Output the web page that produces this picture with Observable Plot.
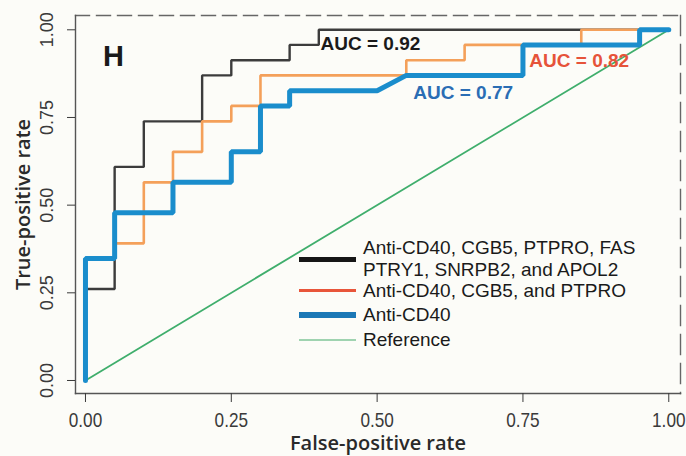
<!DOCTYPE html>
<html><head><meta charset="utf-8">
<script src="https://cdn.jsdelivr.net/npm/d3@7"></script>
<script src="https://cdn.jsdelivr.net/npm/@observablehq/plot@0.6"></script>
<style>
body{margin:0;background:#fcfcf8;}
#wrap{position:relative;width:686px;height:456px;overflow:hidden;}
#legend{position:absolute;left:0;top:0;width:686px;height:456px;pointer-events:none;font-family:"Liberation Sans",Arial,sans-serif;font-size:19px;color:#1a1a1a;}
#legend .sw{position:absolute;left:299px;width:57px;}
#legend .tx{position:absolute;left:363px;line-height:22px;white-space:pre;}
</style></head><body>
<div id="wrap"><div id="chart"></div><div id="legend"></div></div>
<script>
// ---- data ----
const tickValues = [0, 0.25, 0.5, 0.75, 1];

const seriesNames = [
  "Anti-CD40, CGB5, PTPRO, FAS\nPTRY1, SNRPB2, and APOL2",
  "Anti-CD40, CGB5, and PTPRO",
  "Anti-CD40",
  "Reference"
];

const fprSeven = [0, 0, 0.05, 0.05, 0.10, 0.10, 0.20, 0.20, 0.25, 0.25, 0.35, 0.35, 0.40, 0.40, 1.00];
const tprSeven = [0, 0.261, 0.261, 0.609, 0.609, 0.739, 0.739, 0.870, 0.870, 0.913, 0.913, 0.957, 0.957, 1, 1];

const fprThree = [0, 0, 0.05, 0.05, 0.10, 0.10, 0.15, 0.15, 0.20, 0.20, 0.25, 0.25, 0.30, 0.30, 0.55, 0.55, 0.65, 0.65, 0.85, 0.85, 1.00];
const tprThree = [0, 0.348, 0.348, 0.391, 0.391, 0.565, 0.565, 0.652, 0.652, 0.739, 0.739, 0.783, 0.783, 0.870, 0.870, 0.913, 0.913, 0.957, 0.957, 1, 1];

const fprCD40 = [0, 0, 0.05, 0.05, 0.15, 0.15, 0.25, 0.25, 0.30, 0.30, 0.35, 0.35, 0.50, 0.55, 0.75, 0.75, 0.95, 0.95, 1.00];
const tprCD40 = [0, 0.348, 0.348, 0.478, 0.478, 0.565, 0.565, 0.652, 0.652, 0.783, 0.783, 0.826, 0.826, 0.870, 0.870, 0.957, 0.957, 1, 1];

const fprRef = [0, 1];
const tprRef = [0, 1];

const aucText = ["AUC = 0.92", "AUC = 0.82", "AUC = 0.77"];

// ---- annotation placement & styles (not data) ----
const aucX = [0.403, 0.761, 0.562];
const aucY = [0.960, 0.910, 0.820];
const aucColors = ["#1a1a1a", "#e6533a", "#2a6db4"];

const lineColors = ["#3c3c3c", "#f4a05a", "#1a8dcc", "#3fae6c"];
const lineWidths = [2.4, 2.6, 5, 1.8];

const legendColors = ["#161616", "#e8553a", "#1b78b6", "#9fd3b0"];
const legendWidths = [4.5, 3.5, 6.5, 2];
const legendLineY = [259.3, 290.7, 315, 339.5];
const legendTextTop = [236.5, 279.5, 304, 328.5];

const toPoints = (xs, ys) => xs.map((x, i) => ({x, y: ys[i]}));
const curves = [
  toPoints(fprSeven, tprSeven),
  toPoints(fprThree, tprThree),
  toPoints(fprCD40, tprCD40)
];
const refCurve = toPoints(fprRef, tprRef);
const aucLabels = aucText.map((t, i) => ({t, x: aucX[i], y: aucY[i], c: aucColors[i]}));

const fmt = d3.format(".2f");
const titleFont = "'Open Sans', 'Liberation Sans', Arial, sans-serif";

const plot = Plot.plot({
  width: 686, height: 456,
  marginLeft: 75, marginRight: 6, marginTop: 15, marginBottom: 63,
  x: {domain: [-0.0171, 1.0201]},
  y: {domain: [-0.0371, 1.0408]},
  style: {background: "transparent", fontFamily: "'Liberation Sans', Arial, sans-serif", color: "#333"},
  marks: [
    Plot.frame({anchor: "top", stroke: "#666", strokeWidth: 1.4, strokeDasharray: "14,7"}),
    Plot.frame({anchor: "right", stroke: "#666", strokeWidth: 1.4, strokeDasharray: "20,9"}),
    Plot.frame({anchor: "left", stroke: "#555", strokeWidth: 1.4}),
    Plot.frame({anchor: "bottom", stroke: "#555", strokeWidth: 1.4}),
    Plot.axisX({ticks: tickValues, tickFormat: fmt, tickSize: 9, tickPadding: 10, fontSize: 20, label: null, color: "#3a3a3a"}),
    Plot.axisY({ticks: tickValues, tickFormat: fmt, tickSize: 8, tickPadding: 15, tickRotate: -90, fontSize: 18, label: null, color: "#3a3a3a"}),
    Plot.line(refCurve, {x: "x", y: "y", stroke: lineColors[3], strokeWidth: lineWidths[3]}),
    Plot.line(curves[0], {x: "x", y: "y", stroke: lineColors[0], strokeWidth: lineWidths[0], strokeLinejoin: "miter"}),
    Plot.line(curves[1], {x: "x", y: "y", stroke: lineColors[1], strokeWidth: lineWidths[1], strokeLinejoin: "miter"}),
    Plot.line(curves[2], {x: "x", y: "y", stroke: lineColors[2], strokeWidth: lineWidths[2], strokeLinejoin: "miter"}),
    Plot.text(aucLabels, {x: "x", y: "y", text: "t", fill: "c", textAnchor: "start", fontWeight: "bold", fontSize: 19}),
    Plot.text(["H"], {frameAnchor: "top-left", dx: 38, dy: 41, text: d => d, textAnchor: "middle", lineAnchor: "middle", fontSize: 29, fontWeight: "bold", fill: "#1a1a1a"}),
    Plot.text(["True-positive rate"], {frameAnchor: "left", dx: -52, rotate: -90, text: d => d, textAnchor: "middle", lineAnchor: "middle", fontSize: 20, fontWeight: 600, fontFamily: titleFont, fill: "#2a2a2a"}),
    Plot.text(["False-positive rate"], {frameAnchor: "bottom", dy: 50, text: d => d, textAnchor: "middle", lineAnchor: "middle", fontSize: 20, fontWeight: 600, fontFamily: titleFont, fill: "#2a2a2a"})
  ]
});

// narrow the x tick labels (the reference uses a condensed face)
plot.querySelectorAll('g[aria-label="x-axis tick label"] text').forEach(t => {
  let tr = t.getAttribute("transform");
  if (!tr) {
    const x = +t.getAttribute("x") || 0, y = +t.getAttribute("y") || 0;
    t.removeAttribute("x"); t.removeAttribute("y");
    tr = `translate(${x},${y})`;
  }
  t.setAttribute("transform", tr + " scale(0.86,1)");
});

document.getElementById("chart").appendChild(plot);

// legend (inside the plot area)
const legend = document.getElementById("legend");
seriesNames.forEach((name, i) => {
  const sw = document.createElement("div");
  sw.className = "sw";
  sw.style.top = (legendLineY[i] - legendWidths[i] / 2) + "px";
  sw.style.height = legendWidths[i] + "px";
  sw.style.background = legendColors[i];
  legend.appendChild(sw);
  const tx = document.createElement("div");
  tx.className = "tx";
  tx.style.top = legendTextTop[i] + "px";
  tx.textContent = name;
  legend.appendChild(tx);
});
</script>
</body></html>
